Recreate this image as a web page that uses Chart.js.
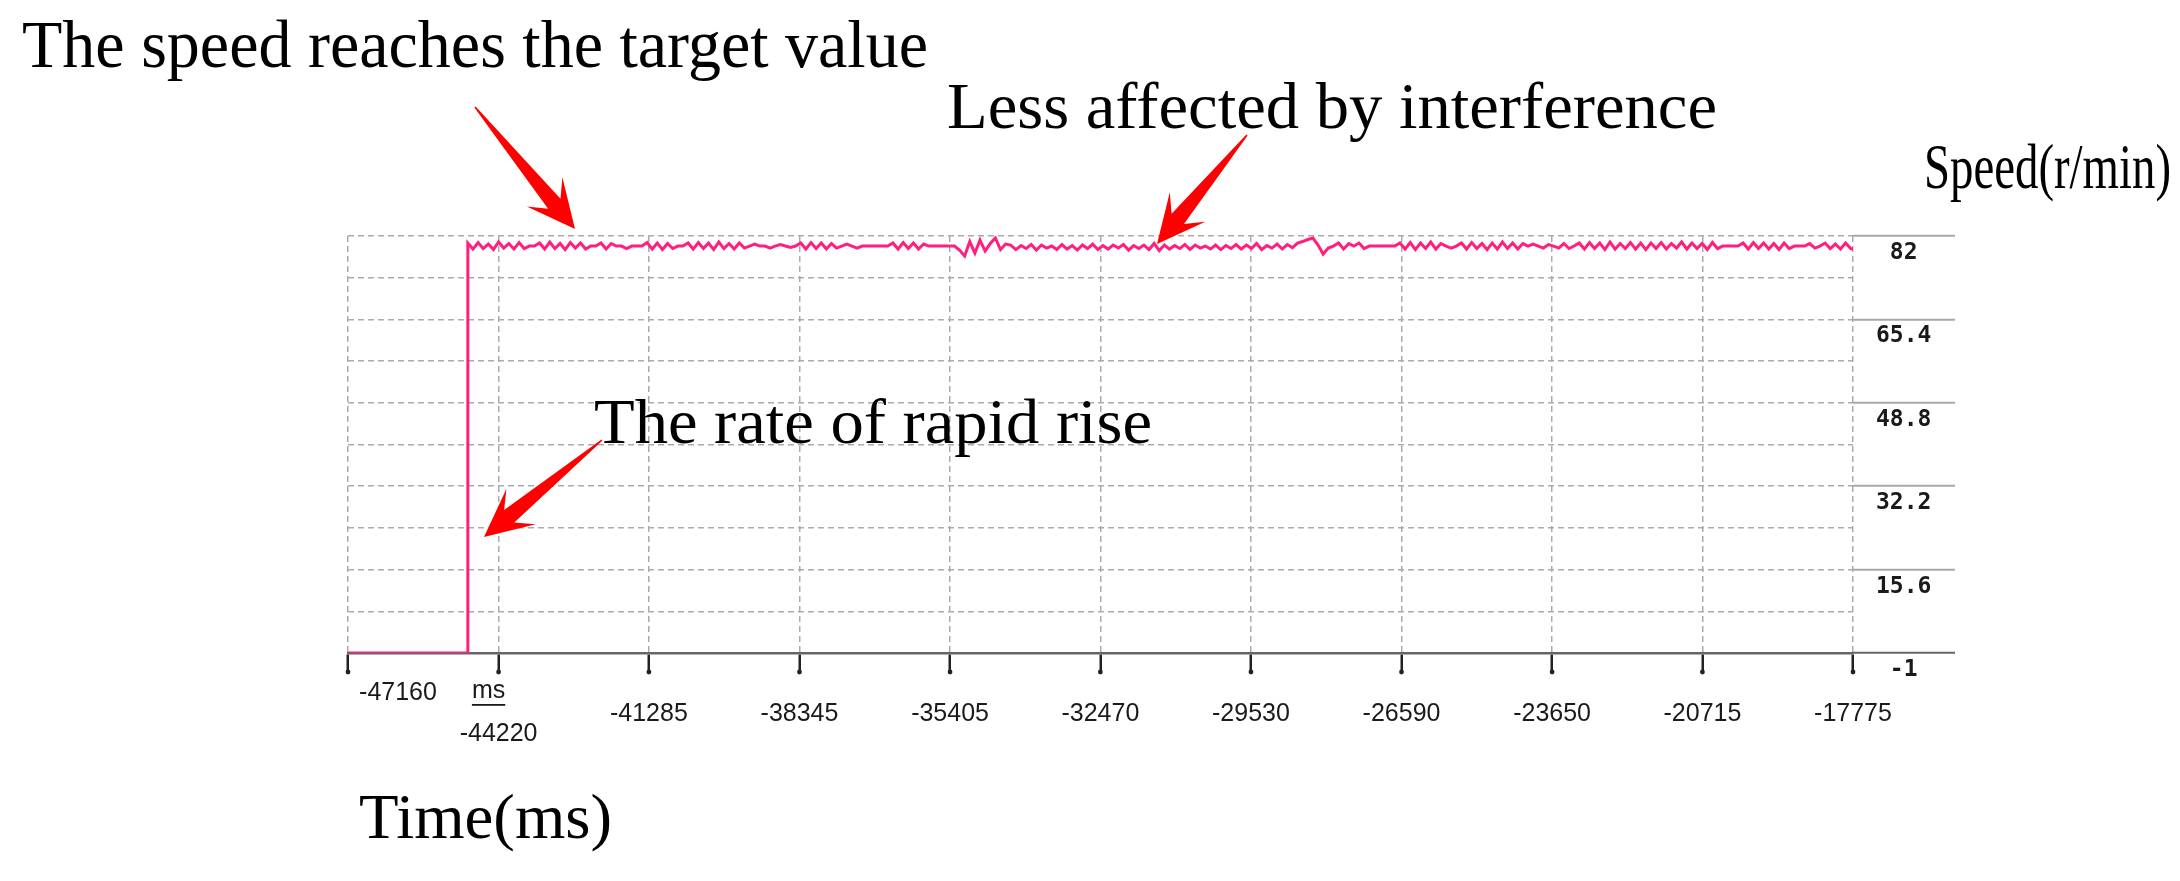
<!DOCTYPE html>
<html>
<head>
<meta charset="utf-8">
<script src="https://cdn.jsdelivr.net/npm/chart.js@4.4.1/dist/chart.umd.min.js"></script>
<style>
html,body{margin:0;padding:0;background:#ffffff;}
#wrap{width:2180px;height:881px;position:relative;}
canvas{display:block;}
</style>
</head>
<body>
<div id="wrap"><canvas id="c" width="2180" height="881"></canvas></div>
<script>
// ---------------- DATA ----------------
const xTickValues = [-47160, -44220, -41285, -38345, -35405, -32470, -29530, -26590, -23650, -20715, -17775];
const xTickLabels = ['-47160', '-44220', '-41285', '-38345', '-35405', '-32470', '-29530', '-26590', '-23650', '-20715', '-17775'];
const xUnitLabel = 'ms';
const yGridValues = [-1, 7.3, 15.6, 23.9, 32.2, 40.5, 48.8, 57.1, 65.4, 73.7, 82];
const yTickLabels = ['-1', '15.6', '32.2', '48.8', '65.4', '82'];

// motor idle before start (ms, r/min)
const idleTime = [-47160, -44820];
const idleSpeed = [-1, -1];

// sampled speed after start: first sample at SAMPLE_START_MS, one sample every SAMPLE_STEP_MS
const SAMPLE_START_MS = -44820;
const SAMPLE_STEP_MS = 100;
const runSpeed = [
  80.6, 79.4, 80.7, 79.5, 80.4, 79.3, 80.8, 79.6, 80.5, 79.4, 80.7, 79.5,
  80.0, 80.0,
  80.6, 79.4, 80.8, 79.5, 80.5, 79.3, 80.7, 79.6, 80.6, 79.4,
  80.0, 80.0,
  80.6, 79.4, 80.5,
  80.0, 80.0,
  79.5,
  80.0, 80.0, 80.0,
  80.7, 79.4, 80.6, 79.3, 80.5, 79.5,
  80.0, 80.0,
  80.6, 79.4, 80.7, 79.5, 80.6, 79.3, 80.8, 79.5, 80.5, 79.4, 80.6, 79.6,
  80.0, 80.4, 80.0, 80.0, 79.6, 80.0, 80.3, 80.0, 79.7, 80.0,
  80.6, 79.4, 80.7, 79.5, 80.6, 79.4, 80.5, 79.6,
  80.0, 80.4, 80.0, 79.6,
  80.0, 80.0, 80.0, 80.0, 80.0, 80.0,
  80.6, 79.4, 80.7, 79.5, 80.6, 79.4, 80.4,
  80.0, 80.0, 80.0, 80.0, 80.0, 80.0,
  79.2, 78.0, 80.9, 78.6, 81.2, 79.0, 80.5, 81.6, 79.3, 80.4,
  80.2, 79.3, 80.1, 79.5, 80.3, 79.2, 80.2, 79.6, 80.0, 79.3,
  80.3, 79.4, 80.1, 79.2, 80.2, 79.5, 80.4, 79.3, 80.1, 79.4,
  80.2, 79.6, 80.3, 79.2, 80.1, 79.5, 80.2, 79.3, 80.5, 79.1,
  80.2, 79.4, 80.1, 79.5, 80.3, 79.3, 80.2, 79.6, 80.0, 79.4,
  80.2, 79.3, 80.1, 79.5, 80.3,
  79.4, 80.2, 79.5, 80.5, 79.3, 80.1, 79.6, 80.4, 79.4, 80.3, 79.7, 80.6, 80.9, 81.3,
  81.6, 80.2, 78.4, 79.6, 80.0,
  80.6, 79.4, 80.5,
  80.0,
  80.6, 79.5,
  80.0, 80.0, 80.0, 80.0, 80.0, 80.0,
  80.6, 79.4, 80.7, 79.3, 80.6, 79.5, 80.8, 79.4, 80.5,
  80.0, 79.6, 80.0,
  80.6, 79.4, 80.7, 79.5, 80.5, 79.3, 80.6, 79.4, 80.8, 79.5, 80.6, 79.4, 80.5,
  80.0, 80.4, 80.0, 79.6, 80.3, 80.0, 79.6, 80.5, 79.5, 80.0,
  80.6, 79.4, 80.7, 79.5, 80.6, 79.3, 80.8, 79.4, 80.5, 79.5,
  80.7, 79.4, 80.6, 79.3, 80.6, 79.5, 80.7, 79.4, 80.5, 79.6,
  80.8, 79.4, 80.6, 79.5, 80.5, 79.3, 80.7, 79.5,
  80.0, 80.0, 80.0, 80.0,
  80.6, 79.4, 80.7, 79.5, 80.6, 79.4, 80.5, 79.3, 80.6, 79.5,
  80.0, 80.0, 80.0,
  80.5, 79.6, 80.0, 80.6, 79.5, 80.4, 79.4, 80.6, 79.5, 79.3
];

// ---------------- ANNOTATIONS (styling / layout) ----------------
const notes = [
  {text: 'The speed reaches the target value', x: 22, y: 67, size: 68, width: 906},
  {text: 'Less affected by interference', x: 947, y: 128, size: 66, width: 770},
  {text: 'Speed(r/min)', x: 1924, y: 188, size: 64, width: 247},
  {text: 'The rate of rapid rise', x: 594, y: 443, size: 64, width: 558},
  {text: 'Time(ms)', x: 359, y: 838, size: 64, width: 253}
];
const arrows = [
  {tail: [475, 107], tip: [575, 229]},
  {tail: [1247, 135], tip: [1157, 244]},
  {tail: [602, 440], tip: [484, 537]}
];

// ---------------- BUILD ----------------
const points = idleTime.map((t, i) => ({x: t, y: idleSpeed[i]}));
runSpeed.forEach((v, i) => points.push({x: SAMPLE_START_MS + i * SAMPLE_STEP_MS, y: v}));
const yLabelMap = {};
yTickLabels.forEach(l => { yLabelMap[parseFloat(l).toFixed(1)] = l; });
const yLabelFor = v => yLabelMap[Number(v).toFixed(1)];

function drawArrow(ctx, a) {
  const [tx, ty] = a.tail, [px, py] = a.tip;
  const dx = px - tx, dy = py - ty, len = Math.hypot(dx, dy);
  const ux = dx / len, uy = dy / len, nx = -uy, ny = ux;
  const L = 48, W = 23, S = 8;
  const bx = px - ux * L, by = py - uy * L;
  const jx = px - ux * L * 0.68, jy = py - uy * L * 0.68;
  ctx.beginPath();
  ctx.moveTo(tx - nx * 0.8, ty - ny * 0.8);
  ctx.lineTo(tx + nx * 0.8, ty + ny * 0.8);
  ctx.lineTo(jx + nx * S, jy + ny * S);
  ctx.lineTo(bx + nx * W, by + ny * W);
  ctx.lineTo(px, py);
  ctx.lineTo(bx - nx * W, by - ny * W);
  ctx.lineTo(jx - nx * S, jy - ny * S);
  ctx.closePath();
  ctx.fillStyle = '#ff0000';
  ctx.fill();
}

function drawNote(ctx, n) {
  ctx.save();
  ctx.font = n.size + 'px "Liberation Serif", "Times New Roman", serif';
  ctx.fillStyle = '#000000';
  ctx.textAlign = 'left';
  ctx.textBaseline = 'alphabetic';
  const w = ctx.measureText(n.text).width;
  ctx.translate(n.x, n.y);
  ctx.scale(n.width / w, 1);
  ctx.fillText(n.text, 0, 0);
  ctx.restore();
}

const decorPlugin = {
  id: 'decor',
  afterDraw(chart) {
    const ctx = chart.ctx;
    const xs = chart.scales.x;
    const base = chart.chartArea.bottom;
    ctx.save();
    // tick end dots
    ctx.fillStyle = '#222';
    xTickValues.forEach(v => {
      ctx.beginPath();
      ctx.arc(xs.getPixelForValue(v), base + 19, 2.4, 0, Math.PI * 2);
      ctx.fill();
    });
    // x tick labels
    ctx.font = '25px "Liberation Sans", Arial, sans-serif';
    ctx.fillStyle = '#1a1a1a';
    ctx.textAlign = 'center';
    ctx.textBaseline = 'middle';
    xTickValues.forEach((v, i) => {
      let px = xs.getPixelForValue(v), py = base + 61;
      if (i === 0) { px += 50; py = base + 40; }
      if (i === 1) { py = base + 81; }
      ctx.fillText(xTickLabels[i], px, py);
    });
    // unit label "ms", underlined
    const ux = xs.getPixelForValue(xTickValues[1]) - 10, uy = base + 38;
    ctx.fillText(xUnitLabel, ux, uy);
    const uw = ctx.measureText(xUnitLabel).width;
    ctx.fillRect(ux - uw / 2, uy + 13, uw, 1.8);
    ctx.restore();
    // annotations
    notes.forEach(n => drawNote(ctx, n));
    ctx.save();
    arrows.forEach(a => drawArrow(ctx, a));
    ctx.restore();
  }
};

new Chart(document.getElementById('c'), {
  type: 'line',
  data: {
    datasets: [{
      data: points,
      borderColor: '#ff1f7f',
      borderWidth: 3,
      pointRadius: 0,
      tension: 0,
      fill: false
    }]
  },
  options: {
    responsive: false,
    animation: false,
    devicePixelRatio: 1,
    layout: {padding: {left: 348, top: 236, right: 0, bottom: 0}},
    plugins: {legend: {display: false}, tooltip: {enabled: false}},
    scales: {
      x: {
        type: 'linear',
        position: 'bottom',
        min: -47160,
        max: -17775,
        afterBuildTicks: s => { s.ticks = xTickValues.map(v => ({value: v})); },
        afterFit: s => { s.height = 228; },
        grid: {
          color: '#ababab',
          lineWidth: 1.5,
          drawTicks: true,
          tickLength: 19,
          tickWidth: 2.5,
          tickColor: '#222',
          tickBorderDash: []
        },
        border: {display: true, color: '#666', width: 2.5, dash: [6, 4]},
        ticks: {display: false}
      },
      y: {
        type: 'linear',
        position: 'right',
        min: -1,
        max: 82,
        afterBuildTicks: s => { s.ticks = yGridValues.map(v => ({value: v})); },
        afterFit: s => { s.width = 327; },
        grid: {
          color: c => (c.tick && c.tick.value === -1) ? 'rgba(0,0,0,0)' : '#ababab',
          lineWidth: 1.5,
          drawTicks: true,
          tickLength: 102,
          tickWidth: 2,
          tickColor: c => {
            const v = c.tick ? c.tick.value : null;
            if (v === -1) return '#666';
            return yLabelFor(v) ? '#a8a8a8' : 'rgba(0,0,0,0)';
          },
          tickBorderDash: []
        },
        border: {display: false, dash: [6, 4]},
        ticks: {
          autoSkip: false,
          callback: v => yLabelFor(v) || '',
          font: {family: '"DejaVu Sans Mono", monospace', size: 23, weight: 'bold'},
          color: '#1a1a1a',
          crossAlign: 'center',
          padding: -79,
          labelOffset: 17
        }
      }
    }
  },
  plugins: [decorPlugin]
});
</script>
</body>
</html>
